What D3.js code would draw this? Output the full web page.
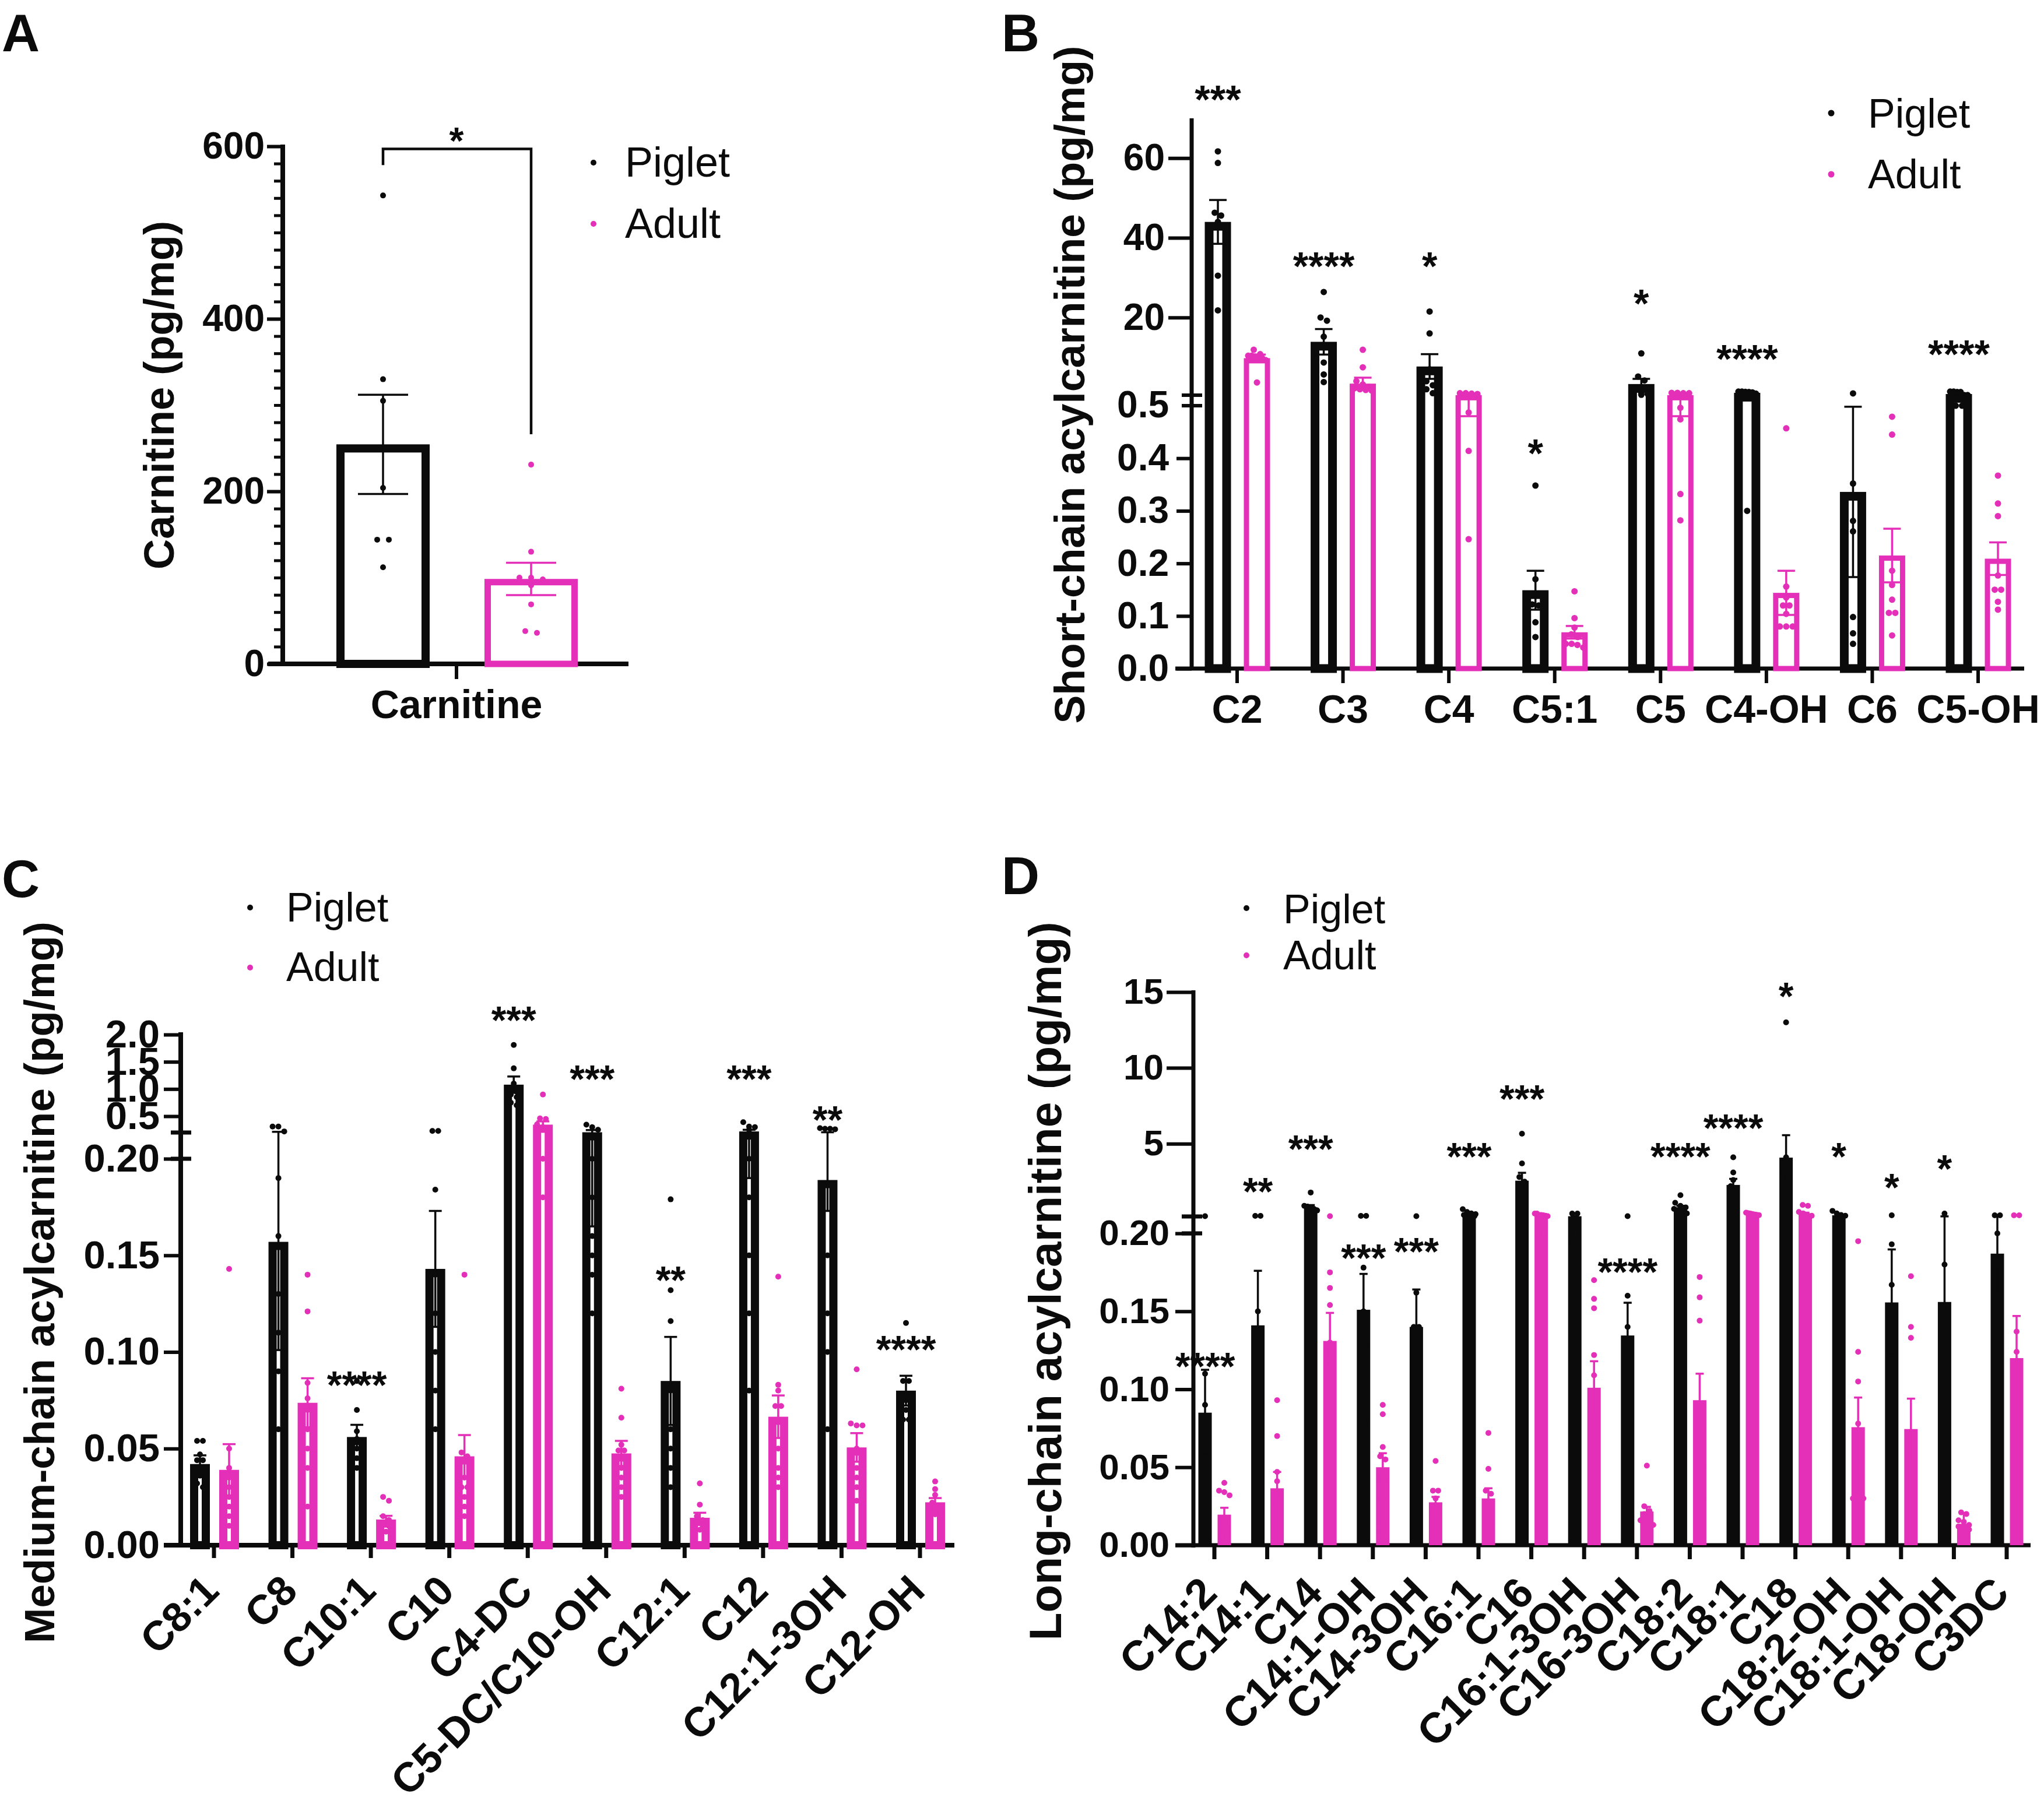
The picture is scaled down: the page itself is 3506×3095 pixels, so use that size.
<!DOCTYPE html>
<html><head><meta charset="utf-8">
<script src="https://cdn.jsdelivr.net/npm/d3@7"></script>
<style>body{margin:0;background:#fff} svg{display:block}</style>
</head><body>
<svg id="chart" width="3506" height="3095"></svg>
<script>
// ================= DATA =================
// Panel A
const aCategory = ["Carnitine"];
const aPigletMean = [254.5], aPigletSem = [57.5];
const aAdultMean = [98.5], aAdultSem = [18.7];
const aPigletPts = [[543, 330, 305, 204, 144, 144, 112]];
const aAdultPts = [[231, 130, 100, 100, 98, 91, 69, 38, 36]];
const aBracketLevel = 597, aStarLevel = 616, aStar = "*";

// Panel B (short-chain)
const bCats = ["C2", "C3", "C4", "C5:1", "C5", "C4-OH", "C6", "C5-OH"];
const bPigletMean = [44.0, 13.9, 7.7, 0.149, 3.3, 1.1, 0.336, 0.8];
const bPigletSem = [5.5, 3.2, 3.1, 0.037, 1.3, 0.1, 0.162, 0.1];
const bAdultMean = [9.8, 3.4, 0.52, 0.069, 0.52, 0.144, 0.215, 0.209];
const bAdultSem = [0.9, 1.5, 0.04, 0.012, 0.04, 0.042, 0.051, 0.031];
const bPigletPts = [
  [61.7, 58.8, 46.3, 45.6, 44, 30.5, 21.8],
  [26.4, 20, 19.2, 15.2, 13, 8.7, 5.7, 3.8],
  [21.5, 16, 7, 4, 3, 2, 1],
  [0.348, 0.17, 0.122, 0.12, 0.088, 0.06],
  [11, 5.2, 4.2, 2.2, 1, 0.8, 0.6],
  [1.4, 1.4, 1.35, 1.3, 1.2, 0.9, 0.3],
  [0.95, 0.352, 0.281, 0.261, 0.098, 0.067, 0.047],
  [1.4, 1.4, 1.3, 1.3, 0.55, 0.52, 0.5, 0.5]
];
const bAdultPts = [
  [11.9, 10.8, 10.4, 10.4, 10.2, 10, 9.8, 9.3, 3.7],
  [11.9, 7.5, 4, 3.2, 2.6, 2.2, 2, 1.8, 1.7],
  [1.0, 1.0, 0.9, 0.8, 0.487, 0.414, 0.246],
  [0.147, 0.096, 0.078, 0.065, 0.06, 0.047, 0.047, 0.045, 0.04],
  [1.1, 1.1, 1.0, 1.0, 0.496, 0.474, 0.332, 0.282],
  [0.457, 0.156, 0.135, 0.12, 0.12, 0.104, 0.08, 0.08, 0.08],
  [0.479, 0.445, 0.186, 0.159, 0.131, 0.106, 0.106, 0.063],
  [0.367, 0.314, 0.29, 0.177, 0.15, 0.15, 0.127, 0.112]
];
const bStars = ["***", "****", "*", "*", "*", "****", "", "****"];
const bStarLevels = [77.0, 35.2, 35.2, 0.427, 25.8, 11.9, null, 13.1];
const bLowTicks = [0, 0.1, 0.2, 0.3, 0.4], bBreakTick = 0.5, bUpTicks = [20, 40, 60];

// Panel C (medium-chain)
const cCats = ["C8:1", "C8", "C10:1", "C10", "C4-DC", "C5-DC/C10-OH", "C12:1", "C12", "C12:1-3OH", "C12-OH"];
const cPigletMean = [0.042, 0.157, 0.056, 0.143, 1.08, 0.205, 0.085, 0.22, 0.189, 0.080];
const cPigletSem = [0.0045, 0.056, 0.0063, 0.030, 0.15, 0.04, 0.0228, 0.03, 0.016, 0.0077];
const cAdultMean = [0.039, 0.0737, 0.0133, 0.046, 0.345, 0.0475, 0.0142, 0.0665, 0.0506, 0.0222];
const cAdultSem = [0.0133, 0.0127, 0.0019, 0.011, 0.06, 0.0065, 0.0026, 0.011, 0.0074, 0.0022];
const cPigletPts = [
  [0.054, 0.054, 0.047, 0.044, 0.044, 0.040, 0.036, 0.032, 0.030],
  [0.31, 0.31, 0.22, 0.19, 0.16, 0.13, 0.11, 0.09, 0.06],
  [0.085, 0.07, 0.059, 0.055, 0.05, 0.045, 0.04],
  [0.23, 0.23, 0.184, 0.14, 0.12, 0.1, 0.08, 0.06],
  [1.81, 1.38, 1.1, 1.0, 0.95, 0.9, 0.85, 0.75, 0.7],
  [0.345, 0.3, 0.25, 0.2, 0.18, 0.16, 0.15, 0.14, 0.12],
  [0.179, 0.132, 0.116, 0.08, 0.06, 0.05, 0.04, 0.03],
  [0.39, 0.31, 0.3, 0.25, 0.2, 0.18, 0.15, 0.12, 0.08],
  [0.28, 0.27, 0.27, 0.26, 0.15, 0.12, 0.1, 0.06],
  [0.115, 0.085, 0.085, 0.075, 0.07, 0.065, 0.065]
];
const cAdultPts = [
  [0.143, 0.05, 0.04, 0.035, 0.03, 0.025, 0.02, 0.015, 0.01],
  [0.14, 0.121, 0.084, 0.076, 0.07, 0.06, 0.05, 0.04, 0.02],
  [0.025, 0.023, 0.015, 0.013, 0.011, 0.01, 0.008, 0.007, 0.006],
  [0.14, 0.048, 0.046, 0.035, 0.03, 0.025, 0.02, 0.015, 0.03],
  [0.9, 0.46, 0.45, 0.35, 0.3, 0.28, 0.25, 0.2, 0.18],
  [0.081, 0.066, 0.052, 0.049, 0.049, 0.04, 0.035, 0.03, 0.025],
  [0.032, 0.021, 0.015, 0.012, 0.01, 0.009, 0.008, 0.007, 0.013],
  [0.139, 0.083, 0.08, 0.072, 0.072, 0.05, 0.04, 0.035, 0.03],
  [0.091, 0.063, 0.062, 0.062, 0.05, 0.04, 0.03, 0.035, 0.023],
  [0.033, 0.029, 0.026, 0.022, 0.02, 0.018, 0.017, 0.016, 0.019]
];
const cStars = ["", "", "****", "", "***", "***", "**", "***", "**", "****"];
const cStarLevels = [null, null, 0.0875, null, 2.43, 1.35, 0.1418, 1.35, 0.597, 0.1059];
const cLowTicks = [0, 0.05, 0.10, 0.15, 0.20], cUpTicks = [0.5, 1.0, 1.5, 2.0];

// Panel D (long-chain)
const dCats = ["C14:2", "C14:1", "C14", "C14:1-OH", "C14-3OH", "C16:1", "C16", "C16:1-3OH", "C16-3OH", "C18:2", "C18:1", "C18", "C18:2-OH", "C18:1-OH", "C18-OH", "C3DC"];
const dPigletMean = [0.085, 0.141, 0.8, 0.151, 0.14, 0.36, 2.56, 0.214, 0.1345, 0.8, 2.28, 4.08, 0.28, 0.1557, 0.156, 0.187];
const dPigletSem = [0.0275, 0.035, 0.15, 0.023, 0.024, 0.05, 0.52, 0.02, 0.021, 0.1, 0.4, 1.48, 0.04, 0.034, 0.05, 0.025];
const dAdultMean = [0.0196, 0.0365, 0.131, 0.05, 0.0275, 0.03, 0.28, 0.101, 0.0216, 0.093, 0.36, 0.4, 0.0757, 0.0745, 0.0137, 0.12];
const dAdultSem = [0.0044, 0.0105, 0.018, 0.009, 0.0035, 0.0065, 0.02, 0.017, 0.003, 0.017, 0.02, 0.05, 0.019, 0.0195, 0.007, 0.027];
const dPigletPts = [
  [0.22, 0.11, 0.09, 0.07, 0.06, 0.05, 0.04, 0.03],
  [0.24, 0.24, 0.15, 0.12, 0.1, 0.08, 0.06, 0.05],
  [1.78, 0.9, 0.85, 0.8, 0.7, 0.6, 0.5, 0.4],
  [0.24, 0.24, 0.178, 0.15, 0.12, 0.1, 0.08, 0.08],
  [0.22, 0.162, 0.14, 0.14, 0.12, 0.1, 0.09],
  [0.68, 0.5, 0.4, 0.35, 0.3, 0.25, 0.22, 0.2],
  [5.66, 3.7, 2.8, 2.5, 2.2, 1.8, 1.5, 0.8],
  [0.39, 0.39, 0.2, 0.18, 0.15, 0.12, 0.1],
  [0.22, 0.16, 0.14, 0.13, 0.12, 0.1, 0.08],
  [1.6, 1.1, 0.9, 0.8, 0.7, 0.6, 0.5, 0.4],
  [4.1, 3.1, 2.6, 2.2, 2.0, 1.8, 1.5, 1.0],
  [13.0, 4.1, 3.5, 3.0, 2.8, 2.5, 2.0, 1.8],
  [0.57, 0.4, 0.3, 0.25, 0.2, 0.15, 0.12, 0.1],
  [0.28, 0.193, 0.167, 0.15, 0.13, 0.1, 0.08],
  [0.39, 0.18, 0.15, 0.12, 0.1, 0.08, 0.07, 0.1],
  [0.28, 0.28, 0.2, 0.18, 0.15, 0.12, 0.1]
];
const dAdultPts = [
  [0.04, 0.035, 0.034, 0.032, 0.015, 0.01, 0.008, 0.006, 0.005],
  [0.093, 0.07, 0.047, 0.041, 0.03, 0.02, 0.015, 0.01, 0.008],
  [0.22, 0.175, 0.165, 0.154, 0.13, 0.12, 0.1, 0.08, 0.04],
  [0.09, 0.084, 0.063, 0.057, 0.055, 0.045, 0.03, 0.015, 0.01],
  [0.054, 0.035, 0.035, 0.03, 0.025, 0.02, 0.015, 0.01, 0.02],
  [0.072, 0.049, 0.035, 0.033, 0.025, 0.02, 0.015, 0.012, 0.01],
  [0.39, 0.39, 0.3, 0.3, 0.28, 0.25, 0.22, 0.2, 0.2],
  [0.17, 0.158, 0.152, 0.122, 0.109, 0.08, 0.06, 0.04, 0.02],
  [0.051, 0.025, 0.022, 0.02, 0.018, 0.016, 0.015, 0.014, 0.013],
  [0.172, 0.159, 0.144, 0.09, 0.08, 0.07, 0.05, 0.04, 0.03],
  [0.45, 0.42, 0.4, 0.38, 0.35, 0.33, 0.32, 0.3, 0.29],
  [0.96, 0.9, 0.5, 0.4, 0.3, 0.25, 0.2, 0.1, 0.05],
  [0.195, 0.124, 0.105, 0.078, 0.05, 0.04, 0.03, 0.03, 0.03],
  [0.1725, 0.14, 0.133, 0.05, 0.04, 0.04, 0.03, 0.03, 0.035],
  [0.021, 0.02, 0.016, 0.015, 0.013, 0.012, 0.011, 0.01, 0.008],
  [0.28, 0.28, 0.137, 0.124, 0.08, 0.06, 0.05, 0.04, 0.03]
];
const dStars = ["****", "**", "***", "***", "***", "***", "***", "", "****", "****", "****", "*", "*", "*", "*", ""];
const dStarLevels = [0.1204, 2.43, 5.24, 0.19, 0.194, 4.74, 8.55, null, 0.181, 4.74, 6.62, 15.3, 4.74, 2.7, 3.93, null];
const dLowTicks = [0, 0.05, 0.10, 0.15, 0.20], dUpTicks = [5, 10, 15];

const groupNames = ["Piglet", "Adult"];

// ================= DRAWING =================
const PINK = "#e42fb8", BLACK = "#0b0b0b";
const FONT = "'Liberation Sans', Arial, Helvetica, sans-serif";
const svg = d3.select("#chart");
svg.append("rect").attr("width", 3506).attr("height", 3095).attr("fill", "#fff");

function brokenScale(lowDom, lowRange, upDom, upRange) {
  const lo = d3.scaleLinear().domain(lowDom).range(lowRange);
  const up = d3.scaleLinear().domain(upDom).range(upRange);
  const f = v => (v <= lowDom[1] ? lo(v) : up(v));
  f.lo = lo; f.up = up;
  return f;
}

function swarm(vals, y, cx, r, step, maxW) {
  const pts = vals.map(v => ({ v, y: y(v) })).sort((a, b) => a.y - b.y);
  const rows = [];
  pts.forEach(p => {
    const last = rows[rows.length - 1];
    if (last && Math.abs(p.y - last[0].y) < 1.8 * r) last.push(p); else rows.push([p]);
  });
  rows.forEach(row => {
    const n = row.length;
    let s = step;
    if (n > 1 && (n - 1) * s > maxW) s = maxW / (n - 1);
    row.forEach((p, j) => { p.x = cx + (j - (n - 1) / 2) * s; });
  });
  return pts;
}

function text(g, x, y, str, size, weight, anchor) {
  return g.append("text").attr("x", x).attr("y", y).text(str)
    .attr("fill", BLACK).style("font-family", FONT).style("font-size", size + "px")
    .style("font-weight", weight || "normal").attr("text-anchor", anchor || "start");
}

function styleAxis(g, fs, tickW) {
  g.select(".domain").remove();
  g.selectAll(".tick line").attr("stroke", BLACK).attr("stroke-width", tickW);
  g.selectAll(".tick text").attr("fill", BLACK).style("font-family", FONT)
    .style("font-size", fs + "px").style("font-weight", "bold");
}

function drawSeries(g, o) {
  o.cats.forEach((c, i) => {
    const cx = o.x(c) + o.off;
    const m = o.mean[i], e = o.sem[i];
    const y0 = o.y(0), ym = o.y(m);
    if (o.filled) {
      g.append("rect").attr("x", cx - o.barW / 2).attr("y", ym).attr("width", o.barW)
        .attr("height", y0 - ym).attr("fill", o.color);
    } else {
      const w = o.barW - o.stroke;
      g.append("rect").attr("x", cx - w / 2).attr("y", ym + o.stroke / 2).attr("width", w)
        .attr("height", Math.max(0, y0 - ym - o.stroke / 2)).attr("fill", "#fff").attr("stroke", o.color)
        .attr("stroke-width", o.stroke);
    }
    const yt = o.y(m + e), yb = o.y(Math.max(0, m - e));
    g.append("line").attr("x1", cx).attr("x2", cx).attr("y1", yt).attr("y2", yb)
      .attr("stroke", o.color).attr("stroke-width", 3.5);
    [yt, yb].forEach(yy => g.append("line").attr("x1", cx - o.capW / 2).attr("x2", cx + o.capW / 2)
      .attr("y1", yy).attr("y2", yy).attr("stroke", o.color).attr("stroke-width", 3.5));
    const pts = swarm(o.pts[i], o.y, cx, o.r, o.step, o.maxW);
    g.selectAll(null).data(pts).join("circle")
      .attr("cx", d => d.x).attr("cy", d => d.y).attr("r", o.r).attr("fill", o.color);
  });
}

function drawStars(g, cats, x, y, off, stars, levels, fs) {
  cats.forEach((c, i) => {
    if (!stars[i]) return;
    text(g, x(c) + off, y(levels[i]) + 0.575 * fs, stars[i], fs, "bold", "middle");
  });
}

function legend(g, x, yP, yA, tx, bP, bA, fs, r) {
  g.append("circle").attr("cx", x).attr("cy", yP).attr("r", r).attr("fill", BLACK);
  g.append("circle").attr("cx", x).attr("cy", yA).attr("r", r).attr("fill", PINK);
  text(g, tx, bP, groupNames[0], fs, "normal");
  text(g, tx, bA, groupNames[1], fs, "normal");
}

function yTitle(g, x, y, str, fs, len) {
  g.append("text").attr("transform", `translate(${x},${y}) rotate(-90)`)
    .attr("text-anchor", "middle").attr("fill", BLACK).text(str)
    .style("font-family", FONT).style("font-size", fs + "px").style("font-weight", "bold")
    .attr("textLength", len).attr("lengthAdjust", "spacingAndGlyphs");
}

// ---------- Panel A ----------
(function () {
  const g = svg.append("g");
  const y = d3.scaleLinear().domain([0, 600]).range([1139, 251]);
  const x = d3.scalePoint().domain(aCategory).range([488, 1078]).padding(0.5);
  const axisX = 485;
  const minor = d3.range(20, 600, 20).filter(v => v % 200 !== 0);
  const gm = g.append("g").attr("transform", `translate(${axisX},0)`)
    .call(d3.axisLeft(y).tickValues(minor).tickSize(15).tickFormat(""));
  styleAxis(gm, 10, 5);
  const ga = g.append("g").attr("transform", `translate(${axisX},0)`)
    .call(d3.axisLeft(y).tickValues([0, 200, 400, 600]).tickSize(27).tickPadding(4).tickFormat(d3.format("d")));
  styleAxis(ga, 64, 6);
  g.append("line").attr("x1", axisX).attr("x2", axisX).attr("y1", y(0) + 4).attr("y2", y(600) - 3)
    .attr("stroke", BLACK).attr("stroke-width", 8);
  g.append("line").attr("x1", 460).attr("x2", 1078).attr("y1", y(0)).attr("y2", y(0))
    .attr("stroke", BLACK).attr("stroke-width", 8);
  aCategory.forEach(c => {
    g.append("line").attr("x1", x(c)).attr("x2", x(c)).attr("y1", y(0)).attr("y2", y(0) + 26)
      .attr("stroke", BLACK).attr("stroke-width", 6);
    text(g, x(c), 1232, c, 68, "bold", "middle");
  });
  const common = { cats: aCategory, x, y, barW: 160, filled: false, capW: 86, r: 5, step: 20, maxW: 60 };
  drawSeries(g, Object.assign({}, common, { stroke: 14, mean: aPigletMean, sem: aPigletSem, pts: aPigletPts, off: -126, color: BLACK }));
  drawSeries(g, Object.assign({}, common, { stroke: 11, mean: aAdultMean, sem: aAdultSem, pts: aAdultPts, off: 128, color: PINK }));
  const xp = x(aCategory[0]) - 126, xa = x(aCategory[0]) + 128;
  const yp = y(d3.max(aPigletPts[0])) - 52, ya = y(d3.max(aAdultPts[0])) - 52;
  g.append("path").attr("d", `M${xp},${yp}V${y(aBracketLevel)}H${xa}V${ya}`)
    .attr("fill", "none").attr("stroke", BLACK).attr("stroke-width", 4.5);
  text(g, x(aCategory[0]), y(aStarLevel) + 0.575 * 64, aStar, 64, "bold", "middle");
  yTitle(g, 298, 678, "Carnitine (pg/mg)", 72, 598);
  legend(g, 1018, 279, 384, 1072, 303, 408, 72, 5);
  text(g, 3, 88, "A", 90, "bold");
})();

// ---------- Panel B ----------
(function () {
  const g = svg.append("g");
  const y = brokenScale([0, 0.5], [1147, 696], [0.5, 70], [678, 203]);
  const x = d3.scalePoint().domain(bCats).range([2122, 3393]);
  const axisX = 2044;
  const gl = g.append("g").attr("transform", `translate(${axisX},0)`)
    .call(d3.axisLeft(y.lo).tickValues(bLowTicks).tickSize(26).tickPadding(13).tickFormat(d3.format(".1f")));
  styleAxis(gl, 64, 6);
  const gu = g.append("g").attr("transform", `translate(${axisX},0)`)
    .call(d3.axisLeft(y.up).tickValues(bUpTicks).tickSize(40).tickPadding(6).tickFormat(d3.format("d")));
  styleAxis(gu, 64, 6);
  text(g, axisX - 39, y.lo(bBreakTick), d3.format(".1f")(bBreakTick), 64, "bold", "end").attr("dy", "0.32em");
  g.append("line").attr("x1", axisX).attr("x2", axisX).attr("y1", 1150).attr("y2", y.up(70))
    .attr("stroke", BLACK).attr("stroke-width", 7);
  [y.up(0.5), y.lo(0.5)].forEach(yy => g.append("line").attr("x1", axisX - 17).attr("x2", axisX + 18)
    .attr("y1", yy).attr("y2", yy).attr("stroke", BLACK).attr("stroke-width", 6));
  g.append("line").attr("x1", 2016).attr("x2", 3472).attr("y1", 1147).attr("y2", 1147)
    .attr("stroke", BLACK).attr("stroke-width", 7);
  bCats.forEach(c => {
    g.append("line").attr("x1", x(c)).attr("x2", x(c)).attr("y1", 1147).attr("y2", 1172)
      .attr("stroke", BLACK).attr("stroke-width", 6);
    text(g, x(c), 1240, c, 68, "bold", "middle");
  });
  const common = { cats: bCats, x, y, barW: 45, filled: false, capW: 30, r: 5.5, step: 11, maxW: 30 };
  drawSeries(g, Object.assign({}, common, { stroke: 15, mean: bPigletMean, sem: bPigletSem, pts: bPigletPts, off: -33, color: BLACK }));
  drawSeries(g, Object.assign({}, common, { stroke: 9, mean: bAdultMean, sem: bAdultSem, pts: bAdultPts, off: 34, color: PINK }));
  drawStars(g, bCats, x, y, -33, bStars, bStarLevels, 68);
  yTitle(g, 1860, 660, "Short-chain acylcarnitine (pg/mg)", 73, 1163);
  legend(g, 3141, 194, 299, 3204, 219, 323, 70, 5.5);
  text(g, 1718, 88, "B", 90, "bold");
})();

// ---------- Panel C ----------
(function () {
  const g = svg.append("g");
  const y = brokenScale([0, 0.2], [2651, 1988], [0.2, 2.0], [1943, 1775]);
  const x = d3.scalePoint().domain(cCats).range([367, 1578]);
  const axisX = 310;
  const gl = g.append("g").attr("transform", `translate(${axisX},0)`)
    .call(d3.axisLeft(y.lo).tickValues(cLowTicks).tickSize(29).tickPadding(7).tickFormat(d3.format(".2f")));
  styleAxis(gl, 67, 6);
  const gu = g.append("g").attr("transform", `translate(${axisX},0)`)
    .call(d3.axisLeft(y.up).tickValues(cUpTicks).tickSize(29).tickPadding(7).tickFormat(d3.format(".1f")));
  styleAxis(gu, 67, 6);
  g.append("line").attr("x1", axisX).attr("x2", axisX).attr("y1", 2655).attr("y2", y.up(2.0) - 4)
    .attr("stroke", BLACK).attr("stroke-width", 8);
  [y.up(0.2), y.lo(0.2)].forEach(yy => g.append("line").attr("x1", axisX - 17).attr("x2", axisX + 18)
    .attr("y1", yy).attr("y2", yy).attr("stroke", BLACK).attr("stroke-width", 7));
  g.append("line").attr("x1", 281).attr("x2", 1637).attr("y1", 2651).attr("y2", 2651)
    .attr("stroke", BLACK).attr("stroke-width", 8);
  cCats.forEach(c => {
    g.append("line").attr("x1", x(c)).attr("x2", x(c)).attr("y1", 2651).attr("y2", 2673)
      .attr("stroke", BLACK).attr("stroke-width", 7);
    g.append("text").attr("transform", `translate(${x(c) + 12},${2651 + 82}) rotate(-45)`)
      .attr("text-anchor", "end").attr("fill", BLACK).text(c)
      .style("font-family", FONT).style("font-size", "71px").style("font-weight", "bold");
  });
  const common = { cats: cCats, x, y, barW: 34, filled: false, capW: 22, r: 5, step: 10, maxW: 26 };
  drawSeries(g, Object.assign({}, common, { stroke: 14, mean: cPigletMean, sem: cPigletSem, pts: cPigletPts, off: -24, color: BLACK }));
  drawSeries(g, Object.assign({}, common, { stroke: 14, mean: cAdultMean, sem: cAdultSem, pts: cAdultPts, off: 26, color: PINK }));
  drawStars(g, cCats, x, y, -24, cStars, cStarLevels, 66);
  yTitle(g, 93, 2200, "Medium-chain acylcarnitine (pg/mg)", 73, 1238);
  legend(g, 429, 1557, 1660, 491, 1581, 1683, 70, 5);
  text(g, 3, 1539, "C", 90, "bold");
})();

// ---------- Panel D ----------
(function () {
  const g = svg.append("g");
  const y = brokenScale([0, 0.2], [2651, 2116], [0.2, 15], [2087, 1702]);
  const x = d3.scalePoint().domain(dCats).range([2083, 3442]);
  const axisX = 2047;
  const gl = g.append("g").attr("transform", `translate(${axisX},0)`)
    .call(d3.axisLeft(y.lo).tickValues(dLowTicks).tickSize(31).tickPadding(10).tickFormat(d3.format(".2f")));
  styleAxis(gl, 62, 6);
  const gu = g.append("g").attr("transform", `translate(${axisX},0)`)
    .call(d3.axisLeft(y.up).tickValues(dUpTicks).tickSize(46).tickPadding(5).tickFormat(d3.format("d")));
  styleAxis(gu, 62, 6);
  g.append("line").attr("x1", axisX).attr("x2", axisX).attr("y1", 2655).attr("y2", y.up(15) - 3)
    .attr("stroke", BLACK).attr("stroke-width", 7);
  [y.up(0.2), y.lo(0.2)].forEach(yy => g.append("line").attr("x1", axisX - 20).attr("x2", axisX + 15)
    .attr("y1", yy).attr("y2", yy).attr("stroke", BLACK).attr("stroke-width", 7));
  g.append("line").attr("x1", 2016).attr("x2", 3483).attr("y1", 2651).attr("y2", 2651)
    .attr("stroke", BLACK).attr("stroke-width", 7);
  dCats.forEach(c => {
    g.append("line").attr("x1", x(c)).attr("x2", x(c)).attr("y1", 2651).attr("y2", 2675)
      .attr("stroke", BLACK).attr("stroke-width", 7);
    g.append("text").attr("transform", `translate(${x(c) + 8},${2651 + 86}) rotate(-45)`)
      .attr("text-anchor", "end").attr("fill", BLACK).text(c)
      .style("font-family", FONT).style("font-size", "73px").style("font-weight", "bold");
  });
  const common = { cats: dCats, x, y, barW: 23, stroke: 0, filled: true, capW: 14, r: 5, step: 9, maxW: 22 };
  drawSeries(g, Object.assign({}, common, { mean: dPigletMean, sem: dPigletSem, pts: dPigletPts, off: -16, color: BLACK }));
  drawSeries(g, Object.assign({}, common, { mean: dAdultMean, sem: dAdultSem, pts: dAdultPts, off: 17, color: PINK }));
  drawStars(g, dCats, x, y, -16, dStars, dStarLevels, 66);
  yTitle(g, 1820, 2198, "Long-chain acylcarnitine (pg/mg)", 78, 1233);
  legend(g, 2138, 1558, 1639, 2201, 1584, 1663, 70, 5);
  text(g, 1718, 1534, "D", 90, "bold");
})();
</script>
</body></html>
